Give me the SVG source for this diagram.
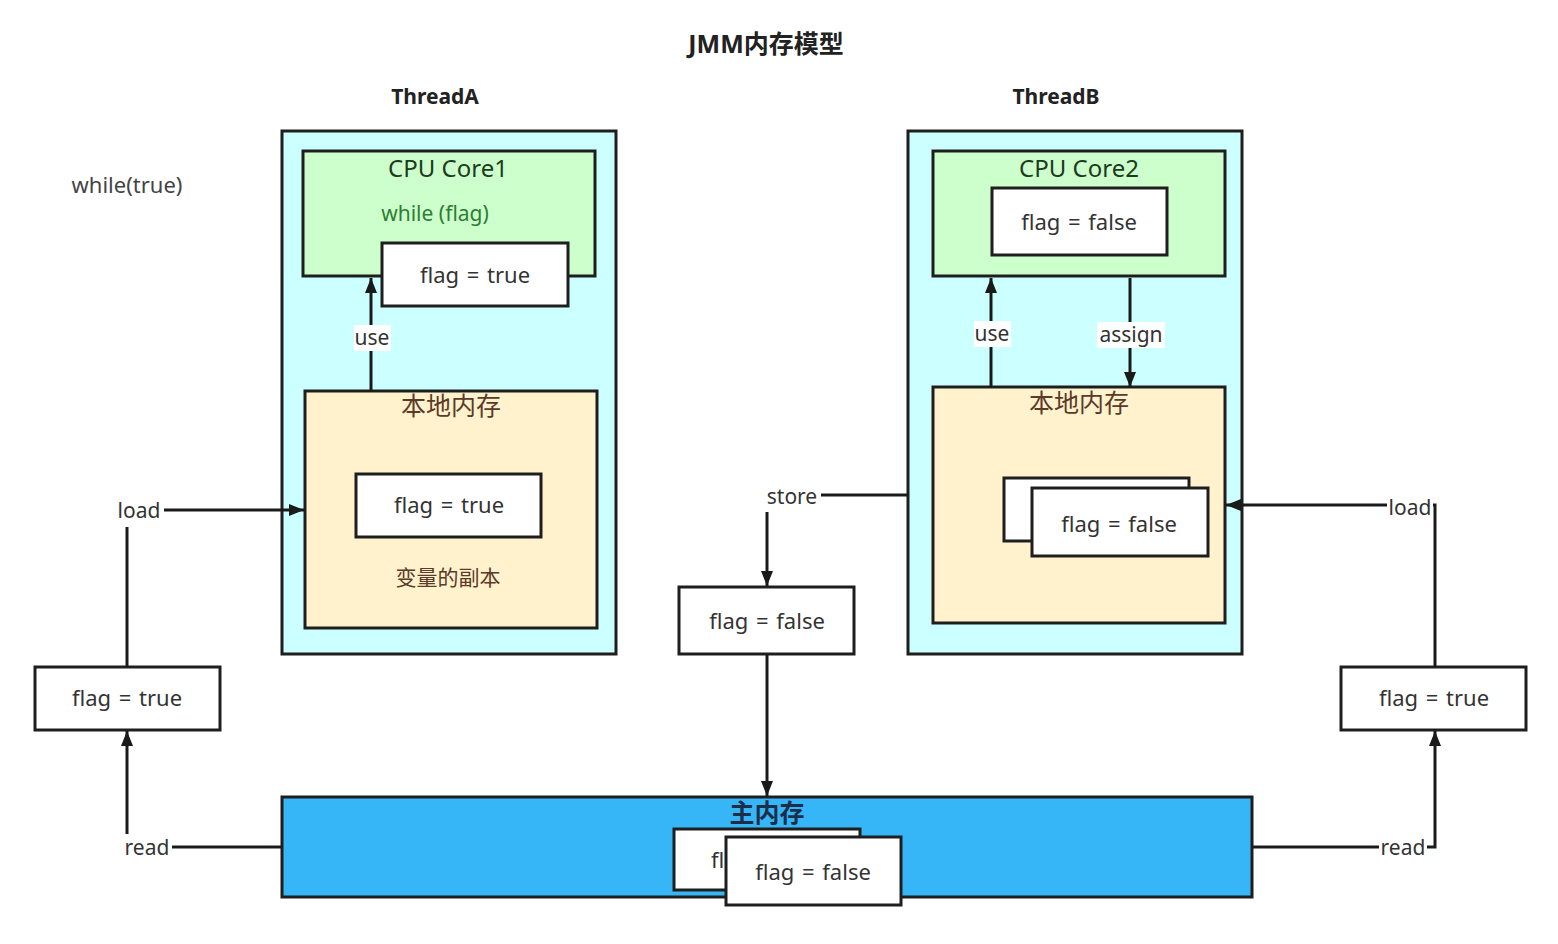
<svg xmlns="http://www.w3.org/2000/svg" width="1558" height="944" viewBox="0 0 1558 944">
<defs>
<marker id="arr" markerUnits="userSpaceOnUse" markerWidth="16" markerHeight="14" refX="15" refY="7" orient="auto">
<path d="M0,1 L15,7 L0,13 z" fill="#1a1a1a"/>
</marker>
<style>
text{font-family:"Noto Sans","Noto Sans CJK SC",sans-serif;text-anchor:middle;dominant-baseline:central}
.box{stroke:#1e1e1e;stroke-width:3}
.thread{fill:#ccffff}
.core{fill:#ccffcc}
.local{fill:#fff2cc}
.main{fill:#36b6f6}
.white{fill:#ffffff}
.val{font-size:22px;fill:#333333;word-spacing:2px}
.lbl{font-size:21px;fill:#333333}
.conn{fill:none;stroke:#1a1a1a;stroke-width:3}
.bg{fill:#ffffff}
.head{font-size:21px;font-weight:bold;fill:#222222}
</style>
</defs>
<rect width="1558" height="944" fill="#ffffff"/>

<g id="title"><text x="766" y="43" style="font-size:25px;font-weight:bold;fill:#222">JMM内存模型</text></g>
<g id="label-threadA"><text x="435" y="96" class="head">ThreadA</text></g>
<g id="label-threadB"><text x="1056" y="96" class="head">ThreadB</text></g>
<g id="while-true"><text x="127" y="184" style="font-size:22px;fill:#444">while(true)</text></g>

<g id="threadA">
<rect x="282" y="131" width="334" height="523" class="box thread"/>
</g>
<g id="core1">
<rect x="303" y="151" width="292" height="125" class="box core"/>
<text x="448" y="167" style="font-size:24px;fill:#1b3b1b">CPU Core1</text>
<text x="435" y="213" style="font-size:21px;fill:#2e7d32">while (flag)</text>
</g>
<g id="core1-flag">
<rect x="382" y="243" width="186" height="63" class="box white"/>
<text x="475" y="274" class="val">flag = true</text>
</g>
<g id="localA">
<rect x="305" y="391" width="292" height="237" class="box local"/>
<text x="451" y="405" style="font-size:25px;fill:#5b3a29">本地内存</text>
<text x="448" y="577" style="font-size:21px;fill:#5b3a29">变量的副本</text>
</g>
<g id="localA-flag">
<rect x="356" y="474" width="185" height="63" class="box white"/>
<text x="449" y="504" class="val">flag = true</text>
</g>

<g id="threadB">
<rect x="908" y="131" width="334" height="523" class="box thread"/>
</g>
<g id="core2">
<rect x="933" y="151" width="292" height="125" class="box core"/>
<text x="1079" y="167" style="font-size:24px;fill:#1b3b1b">CPU Core2</text>
</g>
<g id="core2-flag">
<rect x="992" y="188" width="175" height="67" class="box white"/>
<text x="1079" y="221" class="val">flag = false</text>
</g>
<g id="localB">
<rect x="933" y="387" width="292" height="236" class="box local"/>
<text x="1079" y="402" style="font-size:25px;fill:#5b3a29">本地内存</text>
</g>
<g id="localB-flag">
<rect x="1004" y="478" width="185" height="63" class="box white"/>
<rect x="1032" y="488" width="176" height="68" class="box white"/>
<text x="1119" y="523" class="val">flag = false</text>
</g>

<g id="store-flag">
<rect x="679" y="587" width="175" height="67" class="box white"/>
<text x="767" y="620" class="val">flag = false</text>
</g>

<g id="left-flag">
<rect x="35" y="667" width="185" height="63" class="box white"/>
<text x="127" y="697" class="val">flag = true</text>
</g>
<g id="right-flag">
<rect x="1341" y="667" width="185" height="63" class="box white"/>
<text x="1434" y="697" class="val">flag = true</text>
</g>

<g id="main-memory">
<rect x="282" y="797" width="970" height="100" class="box main"/>
<text x="767" y="812" style="font-size:25px;font-weight:bold;fill:#1c2e4a">主内存</text>
</g>
<g id="main-flag">
<rect x="674" y="829" width="186" height="61" class="box white"/>
<text x="711" y="859" class="val" style="text-anchor:start">fl</text>
<rect x="726" y="837" width="175" height="68" class="box white"/>
<text x="813" y="871" class="val">flag = false</text>
</g>

<g id="connectors">
<path d="M371,392 L371,278" class="conn" marker-end="url(#arr)"/>
<rect x="354" y="325" width="37" height="26" class="bg"/>
<text x="372" y="337" class="lbl">use</text>

<path d="M991,387 L991,278" class="conn" marker-end="url(#arr)"/>
<rect x="974" y="321" width="37" height="26" class="bg"/>
<text x="992" y="333" class="lbl">use</text>

<path d="M1130,278 L1130,387" class="conn" marker-end="url(#arr)"/>
<rect x="1097" y="322" width="68" height="26" class="bg"/>
<text x="1131" y="334" class="lbl">assign</text>

<path d="M908,495 L767,495 L767,586" class="conn" marker-end="url(#arr)"/>
<rect x="764" y="482" width="57" height="30" class="bg"/>
<text x="792" y="496" class="lbl">store</text>

<path d="M767,654 L767,796" class="conn" marker-end="url(#arr)"/>

<path d="M282,847 L127,847 L127,731" class="conn" marker-end="url(#arr)"/>
<rect x="122" y="834" width="50" height="28" class="bg"/>
<text x="147" y="847" class="lbl">read</text>

<path d="M127,667 L127,510 L304,510" class="conn" marker-end="url(#arr)"/>
<rect x="115" y="496" width="49" height="31" class="bg"/>
<text x="139" y="510" class="lbl">load</text>

<path d="M1252,847 L1435,847 L1435,731" class="conn" marker-end="url(#arr)"/>
<rect x="1379" y="834" width="48" height="28" class="bg"/>
<text x="1403" y="847" class="lbl">read</text>

<path d="M1435,667 L1435,505 L1226,505" class="conn" marker-end="url(#arr)"/>
<rect x="1387" y="494" width="46" height="28" class="bg"/>
<text x="1410" y="507" class="lbl">load</text>
</g>
</svg>
